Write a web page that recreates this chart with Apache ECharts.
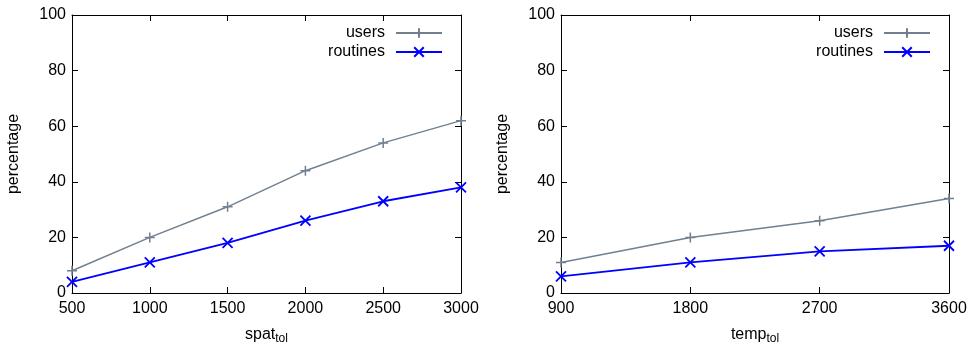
<!DOCTYPE html>
<html>
<head>
<meta charset="utf-8">
<script src="https://cdn.jsdelivr.net/npm/echarts@6/dist/echarts.min.js"></script>
<style>
  html, body { margin: 0; padding: 0; background: #fff; }
  #chart { width: 972px; height: 346px; }
</style>
</head>
<body>
<div id="chart"></div>
<script>
// Spatial tolerance panel
const spatTol = [500, 1000, 1500, 2000, 2500, 3000];
const spatUsers = [8, 20, 31, 44, 54, 62];
const spatRoutines = [4, 11, 18, 26, 33, 38];

// Temporal tolerance panel
const tempTol = [900, 1800, 2700, 3600];
const tempUsers = [11, 20, 26, 34];
const tempRoutines = [6, 11, 15, 17];

const seriesNames = ['users', 'routines'];

const FONT = 'Liberation Sans';
const FS = 16;
const USERS_COLOR = '#708090';
const ROUTINES_COLOR = '#0000ff';
const PLUS = 'path://M0,5L10,5M5,0L5,10';
const CROSS = 'path://M0,0L10,10M10,0L0,10';

function pairs(xs, ys) { return xs.map((x, i) => [x, ys[i]]); }
const plain = v => String(v);

function mainX(gridIndex, min, max, interval, nameRich) {
  return {
    type: 'value', gridIndex, min, max, interval,
    name: nameRich, nameLocation: 'middle', nameGap: 31,
    nameTextStyle: {
      fontFamily: FONT, fontSize: FS, color: '#000',
      rich: { sub: { fontFamily: FONT, fontSize: 12, color: '#000', verticalAlign: 'bottom', padding: [9, 0, 0, 0] },
              base: { fontFamily: FONT, fontSize: FS, color: '#000' } }
    },
    axisLine: { show: true, onZero: false, lineStyle: { color: '#000', width: 1 } },
    axisTick: { show: true, inside: true, length: 6, lineStyle: { color: '#000' } },
    axisLabel: { fontFamily: FONT, fontSize: FS, color: '#000', margin: 8, formatter: plain, showMinLabel: true, showMaxLabel: true },
    splitLine: { show: false }
  };
}
function mirrorX(gridIndex, min, max, interval) {
  return {
    type: 'value', gridIndex, min, max, interval, position: 'top',
    axisLine: { show: true, onZero: false, lineStyle: { color: '#000', width: 1 } },
    axisTick: { show: true, inside: true, length: 6, lineStyle: { color: '#000' } },
    axisLabel: { show: false }, splitLine: { show: false }
  };
}
function mainY(gridIndex) {
  return {
    type: 'value', gridIndex, min: 0, max: 100, interval: 20,
    name: 'percentage', nameLocation: 'middle', nameGap: 50, nameRotate: 90,
    nameTextStyle: { fontFamily: FONT, fontSize: FS, color: '#000' },
    axisLine: { show: true, onZero: false, lineStyle: { color: '#000', width: 1 } },
    axisTick: { show: true, inside: true, length: 6, lineStyle: { color: '#000' } },
    axisLabel: { fontFamily: FONT, fontSize: FS, color: '#000', margin: 6, formatter: plain },
    splitLine: { show: false }
  };
}
function mirrorY(gridIndex) {
  return {
    type: 'value', gridIndex, min: 0, max: 100, interval: 20, position: 'right',
    axisLine: { show: true, onZero: false, lineStyle: { color: '#000', width: 1 } },
    axisTick: { show: true, inside: true, length: 6, lineStyle: { color: '#000' } },
    axisLabel: { show: false }, splitLine: { show: false }
  };
}
function lineSeries(name, xAxisIndex, yAxisIndex, data, color, symbol, width) {
  return {
    type: 'line', name, xAxisIndex, yAxisIndex, data,
    symbol, symbolSize: 10, showAllSymbol: true, clip: false,
    lineStyle: { color, width },
    itemStyle: { color: 'none', borderColor: color, borderWidth: width },
    emphasis: { disabled: true },
    animation: false, z: name === 'routines' ? 3 : 2
  };
}
function legend(right) {
  return {
    data: seriesNames, orient: 'vertical', top: 25, right, align: 'right', padding: 0,
    itemWidth: 46, itemHeight: 12, itemGap: 3, selectedMode: false,
    textStyle: { fontFamily: FONT, fontSize: FS, lineHeight: 16, color: '#000', padding: [0, 6, 0, 0] }
  };
}

const chart = echarts.init(document.getElementById('chart'), null, { renderer: 'canvas' });
chart.setOption({
  animation: false,
  grid: [
    { left: 72, right: 511, top: 15, bottom: 53, outerBoundsMode: 'none', containLabel: false },
    { left: 561, right: 23, top: 15, bottom: 53, outerBoundsMode: 'none', containLabel: false }
  ],
  legend: [legend(529), legend(41)],
  xAxis: [
    mainX(0, 500, 3000, 500, '{base|spat}{sub|tol}'),
    mainX(1, 900, 3600, 900, '{base|temp}{sub|tol}'),
    mirrorX(0, 500, 3000, 500),
    mirrorX(1, 900, 3600, 900)
  ],
  yAxis: [mainY(0), mainY(1), mirrorY(0), mirrorY(1)],
  series: [
    lineSeries('users', 0, 0, pairs(spatTol, spatUsers), USERS_COLOR, PLUS, 1.5),
    lineSeries('routines', 0, 0, pairs(spatTol, spatRoutines), ROUTINES_COLOR, CROSS, 1.8),
    lineSeries('users', 1, 1, pairs(tempTol, tempUsers), USERS_COLOR, PLUS, 1.5),
    lineSeries('routines', 1, 1, pairs(tempTol, tempRoutines), ROUTINES_COLOR, CROSS, 1.8)
  ]
});
</script>
</body>
</html>
